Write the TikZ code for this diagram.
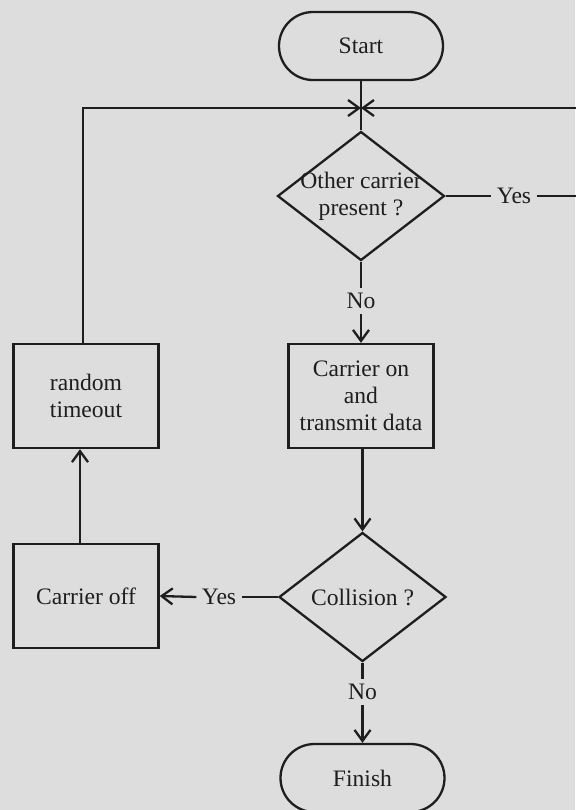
\documentclass[tikz,border=0pt]{standalone}
\usepackage{fontspec}
\setmainfont{Liberation Serif}
\usetikzlibrary{arrows.meta,shapes.geometric}
\definecolor{paper}{RGB}{221,221,221}
\definecolor{ink}{RGB}{30,30,30}
\begin{document}
\begin{tikzpicture}[x=0.5pt,y=-0.5pt,
  every node/.style={font=\fontsize{11.8}{13.4}\selectfont, text=ink},
  flow/.style={draw=ink, line width=1.15pt},
  arr/.style={flow, -{Straight Barb[length=5.5pt,width=8pt]}},
  term/.style={flow, rectangle, rounded corners=17pt, minimum width=82pt, minimum height=34pt},
  proc/.style={flow, rectangle, minimum width=72.5pt, minimum height=52pt, align=center},
  dec/.style={flow, diamond, minimum width=83.5pt, minimum height=64.5pt, inner sep=0pt},
  lbl/.style={inner sep=2.5pt}
]
% page
\fill[paper] (0,0) rectangle (575,810);
\useasboundingbox (0,0) rectangle (575,810);

% main column
\node[term] (start) at (361,46) {Start};
\coordinate (j) at (361,108);
\node[dec, label={[align=center]center:Other carrier\\present ?}] (d1) at (361,196) {};
\node[proc] (tx) at (361,396) {Carrier on\\and\\transmit data};
\node[dec, label={center:Collision ?}] (d2) at (362.5,597) {};
\node[term] (fin) at (362.5,778) {Finish};

% left column
\node[proc] (rt) at (86,396) {random\\timeout};
\node[proc] (off) at (86,596) {Carrier off};

% branch labels
\node[lbl] (yes1) at (514,196) {Yes};
\node[lbl] (no1) at (361,301) {No};
\node[lbl] (yes2) at (219,597) {Yes};
\node[lbl] (no2) at (362.5,692) {No};

% loop guides
\coordinate (hi) at (83,0);
\coordinate (lo) at (80,0);
\coordinate (far) at (600,0);

% connectors
\draw[flow] (start) -- (d1);
\draw[flow] (d1.east) -- (yes1.west);
\draw[arr] (yes1.east) -- (yes1.east -| far) |- (j);
\draw[flow] (d1.south) -- (no1.north);
\draw[arr] (no1.south) -- (tx.north);
\draw[arr] (d2.north |- tx.south) -- (d2.north);
\draw[flow] (d2.west) -- (yes2.east);
\draw[arr] (yes2.west) -- (off.east);
\draw[flow] (d2.south) -- (no2.north);
\draw[arr] (no2.south) -- (fin.north);
\draw[arr] (off.north -| lo) -- (rt.south -| lo);
\draw[arr] (rt.north -| hi) |- (j);
\end{tikzpicture}
\end{document}
